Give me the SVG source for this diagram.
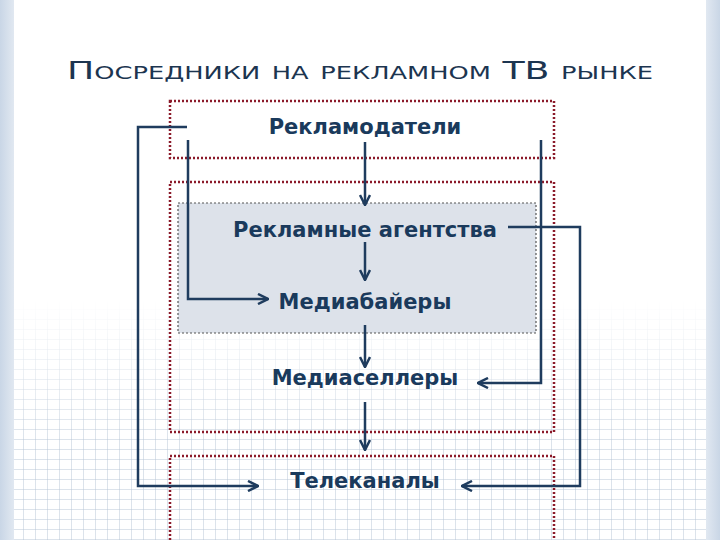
<svg xmlns="http://www.w3.org/2000/svg" width="720" height="540" viewBox="0 0 720 540">
<defs>
<linearGradient id="side" x1="0" y1="0" x2="1" y2="0">
<stop offset="0" stop-color="#c9d6e6"/><stop offset="0.03" stop-color="#eef2f7"/><stop offset="0.97" stop-color="#eef2f7"/><stop offset="1" stop-color="#c9d6e6"/>
</linearGradient>
<linearGradient id="fade" x1="0" y1="0" x2="0" y2="1">
<stop offset="0" stop-color="#fff" stop-opacity="1"/><stop offset="1" stop-color="#fff" stop-opacity="0"/>
</linearGradient>
<pattern id="grid" width="12" height="10" patternUnits="userSpaceOnUse">
<path d="M12 0V10M0 10H12" fill="none" stroke="#b8c6d6" stroke-width="1"/>
</pattern>
<marker id="arr" viewBox="0 0 10 10" refX="9" refY="5" markerWidth="5" markerHeight="5" orient="auto" markerUnits="strokeWidth">
<path d="M1 1L9 5L1 9" fill="none" stroke="#1f3c5e" stroke-width="2"/>
</marker>
<style>
.box{fill:none;stroke:#8b1a2a;stroke-width:2.5;stroke-dasharray:2 2}
.t{font-family:"DejaVu Sans","Noto Sans",sans-serif;font-weight:bold;font-size:21px;fill:#1a3a5c;text-anchor:middle}
.c{fill:none;stroke:#1f3c5e;stroke-width:2.5;marker-end:url(#arr)}
</style>
</defs>
<rect width="720" height="540" fill="url(#side)"/>
<rect x="14" y="0" width="692" height="540" fill="#fff"/>
<rect x="14" y="300" width="692" height="240" fill="url(#grid)"/>
<rect x="14" y="300" width="692" height="140" fill="url(#fade)"/>
<text x="360" y="79" font-family="DejaVu Sans, sans-serif" font-size="24" font-variant="small-caps" fill="#1c3550" textLength="586" lengthAdjust="spacingAndGlyphs" text-anchor="middle">Посредники на рекламном ТВ рынке</text>
<g id="adv"><rect class="box" x="170" y="101" width="384" height="57"/><text class="t" x="365" y="134">Рекламодатели</text></g>
<g id="mid"><rect class="box" x="170" y="182" width="384" height="250"/>
<rect x="178" y="203" width="358" height="130" fill="#dde2ea" stroke="#555" stroke-width="1.2" stroke-dasharray="2 2"/></g>
<g id="ag"><text class="t" x="365" y="237">Рекламные агентства</text></g>
<g id="mb"><text class="t" x="365" y="309">Медиабайеры</text></g>
<g id="ms"><text class="t" x="365" y="385">Медиаселлеры</text></g>
<g id="tv"><rect class="box" x="170" y="456" width="384" height="90"/><text class="t" x="365" y="488">Телеканалы</text></g>
<g id="connectors">
<path class="c" d="M365 142V205"/>
<path class="c" d="M365 242V280"/>
<path class="c" d="M365 325V367"/>
<path class="c" d="M365 402V450"/>
<path class="c" d="M187 127H138V486H258"/>
<path class="c" d="M188 140V299H268"/>
<path class="c" d="M541 140V383H478"/>
<path class="c" d="M508 227H580V486H462"/>
</g>
</svg>
